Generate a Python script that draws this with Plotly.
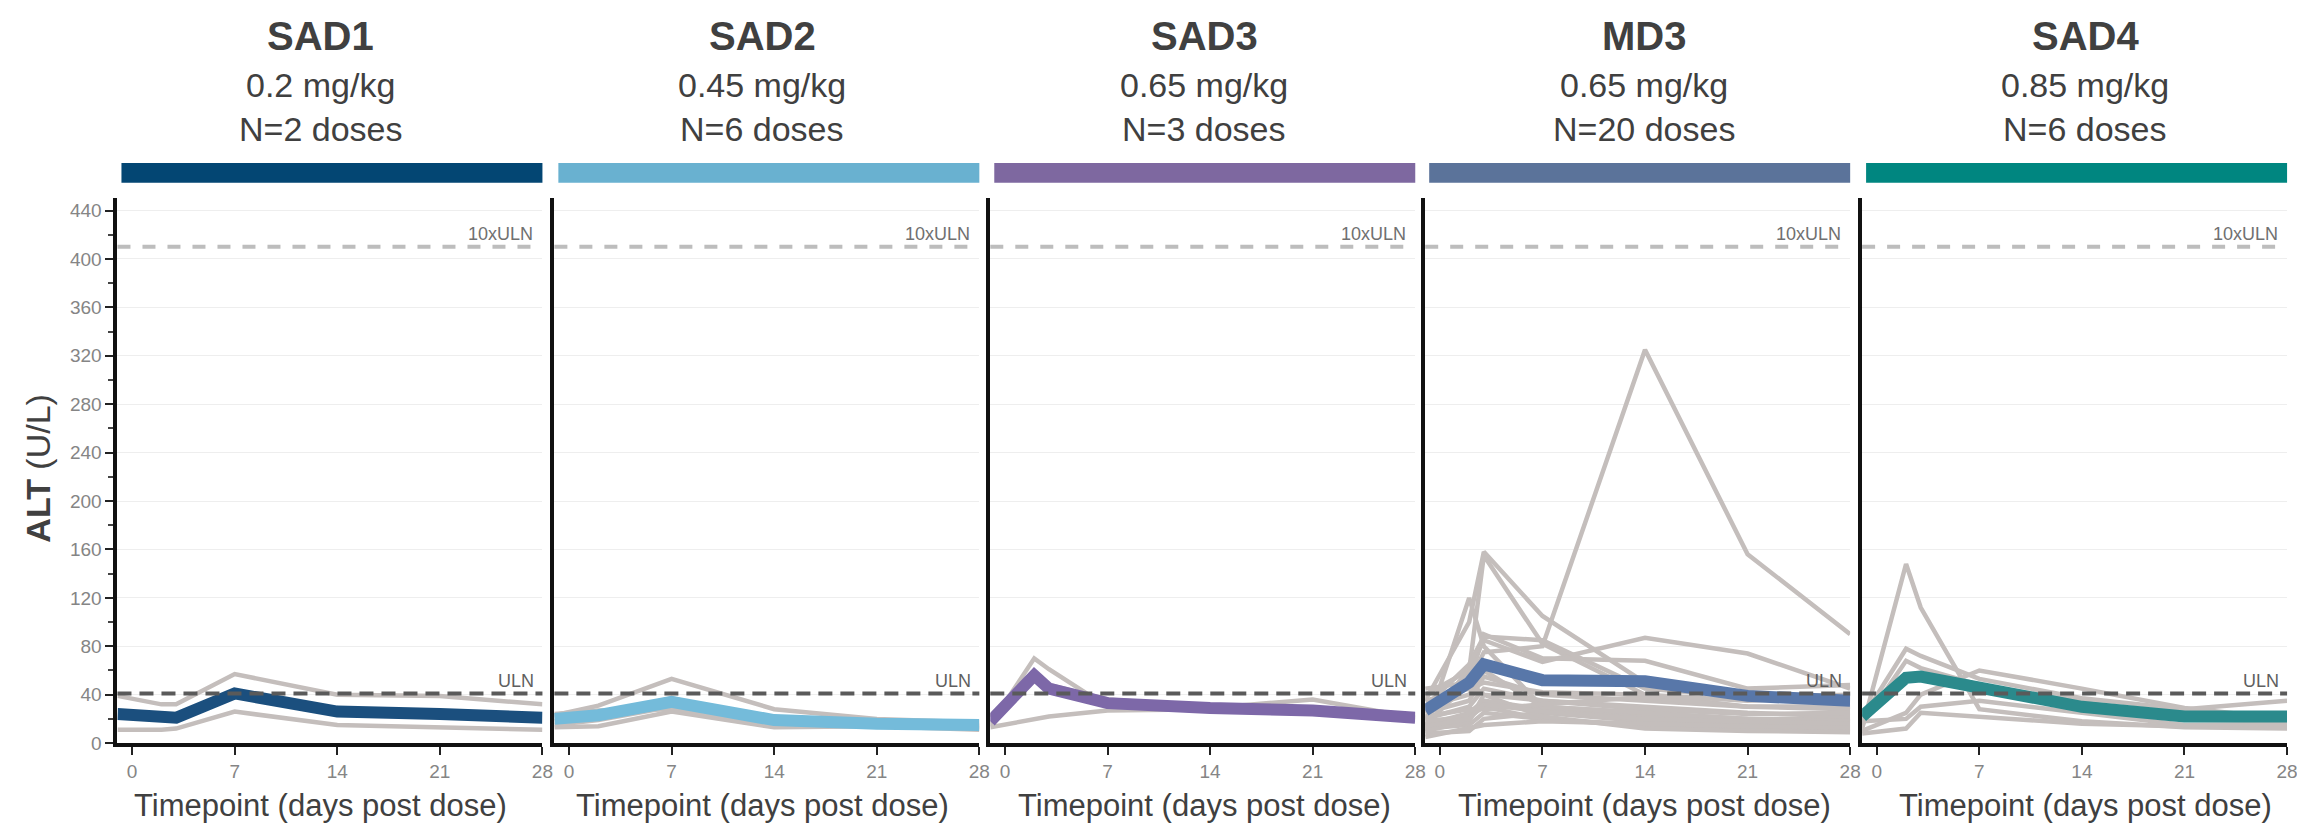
import plotly.graph_objects as go

# ---------------- data ----------------
cohorts = ["SAD1", "SAD2", "SAD3", "MD3", "SAD4"]
doses = ["0.2 mg/kg", "0.45 mg/kg", "0.65 mg/kg", "0.65 mg/kg", "0.85 mg/kg"]
n_doses = ["N=2 doses", "N=6 doses", "N=3 doses", "N=20 doses", "N=6 doses"]

x_ticks = [0, 7, 14, 21, 28]
y_ticks = [0, 40, 80, 120, 160, 200, 240, 280, 320, 360, 400, 440]
ULN = 41
ULN10 = 410

sad1_days = [-1, 2, 3, 7, 14, 21, 28]
sad1_subjects = [
    [39, 32, 32, 57, 40, 39, 32],
    [11, 11, 12, 26, 15, 13, 11],
]
sad1_mean = [24, 21, 21, 41, 26, 24, 21]

sad2_days = [-1, 2, 7, 14, 21, 28]
sad2_subjects = [
    [23, 31, 53, 28, 20, 17],
    [18, 24, 37, 19, 16, 14],
    [13, 14, 26, 13, 14, 11],
    [21, 25, 31, 18, 15, 13],
    [15, 19, 30, 16, 14, 12],
    [24, 27, 28, 17, 16, 15],
]
sad2_mean = [20, 23, 34, 19, 16, 15]

sad3_days = [-1, 2, 3, 7, 14, 21, 28]
sad3_subjects = [
    [15, 70, 61, 30, 29, 36, 21],
    [13, 20, 22, 27, 28, 25, 19],
    [22, 55, 48, 36, 30, 27, 21],
]
sad3_mean = [18, 56, 45, 33, 29, 27, 21]

md3_days = [-1, 2, 3, 7, 14, 21, 28]
md3_subjects = [
    [30, 50, 75, 80, 325, 156, 90],
    [35, 100, 158, 105, 50, 38, 40],
    [20, 60, 155, 82, 40, 30, 30],
    [10, 120, 80, 30, 25, 20, 20],
    [40, 60, 85, 67, 87, 74, 45],
    [15, 50, 90, 70, 68, 45, 48],
    [30, 65, 88, 85, 45, 38, 35],
    [12, 15, 25, 20, 15, 12, 12],
    [8, 10, 20, 25, 18, 15, 14],
    [15, 25, 35, 28, 22, 20, 18],
    [20, 30, 45, 35, 30, 25, 22],
    [25, 35, 55, 40, 35, 30, 28],
    [18, 22, 30, 20, 14, 13, 10],
    [45, 50, 40, 35, 28, 24, 25],
    [10, 18, 40, 22, 12, 10, 9],
    [30, 40, 60, 30, 25, 20, 18],
    [22, 28, 28, 32, 38, 30, 30],
    [5, 12, 15, 18, 16, 14, 13],
    [35, 45, 50, 42, 40, 35, 38],
    [14, 20, 32, 26, 20, 18, 16],
]
md3_mean = [27, 50, 65, 52, 51, 39, 35]

sad4_days = [-1, 2, 3, 7, 14, 21, 28]
sad4_subjects = [
    [12, 148, 112, 28, 18, 13, 12],
    [20, 78, 72, 53, 37, 28, 35],
    [15, 68, 62, 48, 34, 22, 20],
    [10, 25, 40, 60, 45, 29, 20],
    [8, 12, 25, 22, 16, 14, 14],
    [18, 20, 30, 35, 25, 15, 16],
]
sad4_mean = [22, 54, 55, 45, 30, 22, 22]

panel_days = [sad1_days, sad2_days, sad3_days, md3_days, sad4_days]
panel_subjects = [sad1_subjects, sad2_subjects, sad3_subjects, md3_subjects, sad4_subjects]
panel_means = [sad1_mean, sad2_mean, sad3_mean, md3_mean, sad4_mean]

bar_colors = ["#034673", "#69b1d0", "#7e68a0", "#5b739a", "#008680"]
mean_colors = ["#1b4f7e", "#74bbda", "#7d68a8", "#5877a9", "#2b8a8c"]
grey = "#c4bebc"

# ---------------- layout helpers ----------------
W, H = 2305, 827
FONT = "Liberation Sans, Arial, Helvetica, sans-serif"


def px(x):
    return x / W


def py(y):
    return 1 - y / H


panel_left = [110, 549, 987, 1424, 1863]
panel_width = 427
plot_top, plot_bottom = 193, 745
label_centers = [314, 758, 1202, 1644, 2087]

fig = go.Figure()
shapes = []
annotations = []

for i in range(5):
    xs = "x" if i == 0 else f"x{i + 1}"
    ys = "y" if i == 0 else f"y{i + 1}"
    days = panel_days[i]
    for subj in panel_subjects[i]:
        fig.add_trace(go.Scatter(
            x=days, y=subj, xaxis=xs, yaxis=ys, mode="lines",
            line=dict(color=grey, width=4.5), showlegend=False, hoverinfo="skip"))
    fig.add_trace(go.Scatter(
        x=days, y=panel_means[i], xaxis=xs, yaxis=ys, mode="lines",
        line=dict(color=mean_colors[i], width=12), showlegend=False))

    left = panel_left[i]
    right = left + panel_width
    xa_name = "xaxis" if i == 0 else f"xaxis{i + 1}"
    ya_name = "yaxis" if i == 0 else f"yaxis{i + 1}"
    fig.layout[xa_name] = dict(
        domain=[px(left), px(right)], range=[-1, 28], anchor=ys,
        tickvals=x_ticks, ticks="outside", ticklen=8, tickwidth=2, tickcolor="#222",
        showline=True, linewidth=4, linecolor="#111", showgrid=False, zeroline=False,
        tickfont=dict(family=FONT, size=19, color="#858585"), fixedrange=True)
    ya = dict(
        domain=[py(plot_bottom), py(plot_top)], range=[0, 450], anchor=xs,
        tickvals=y_ticks, showline=True, linewidth=4, linecolor="#111",
        showgrid=True, gridcolor="#eeeeee", gridwidth=1, zeroline=False, fixedrange=True)
    if i == 0:
        ya.update(ticks="outside", ticklen=8, tickwidth=2, tickcolor="#222",
                  tickfont=dict(family=FONT, size=19, color="#858585"),
                  minor=dict(dtick=20, ticks="outside", ticklen=5, tickwidth=2,
                             tickcolor="#444", showgrid=False))
    else:
        ya.update(showticklabels=False, ticks="")
    fig.layout[ya_name] = ya

    # reference lines
    dom = f"{xs} domain"
    shapes.append(dict(type="line", xref=dom, yref=ys, x0=0, x1=1, y0=ULN10, y1=ULN10,
                       line=dict(color="#bdbdbd", width=4, dash="13px,12px")))
    shapes.append(dict(type="line", xref=dom, yref=ys, x0=0, x1=1, y0=ULN, y1=ULN,
                       line=dict(color="#5a5a5a", width=4, dash="14px,8px")))
    annotations.append(dict(xref=dom, yref=ys, x=1, y=ULN10, xanchor="right", yanchor="bottom",
                            xshift=-7, yshift=1, text="10xULN", showarrow=False,
                            font=dict(family=FONT, size=18, color="#707070")))
    annotations.append(dict(xref=dom, yref=ys, x=1, y=ULN, xanchor="right", yanchor="bottom",
                            xshift=-6, yshift=0, text="ULN", showarrow=False,
                            font=dict(family=FONT, size=18, color="#5f5f5f")))

    # header bar
    shapes.append(dict(type="rect", xref="paper", yref="paper",
                       x0=px(left + 4), x1=px(right), y0=py(177), y1=py(157),
                       fillcolor=bar_colors[i], line=dict(width=0)))

    cx = px(label_centers[i])
    annotations.append(dict(xref="paper", yref="paper", x=cx, y=py(28), xanchor="center",
                            yanchor="middle", text=f"<b>{cohorts[i]}</b>", showarrow=False,
                            font=dict(family=FONT, size=40, color="#404040")))
    annotations.append(dict(xref="paper", yref="paper", x=cx, y=py(78), xanchor="center",
                            yanchor="middle", text=doses[i], showarrow=False,
                            font=dict(family=FONT, size=34, color="#404040")))
    annotations.append(dict(xref="paper", yref="paper", x=cx, y=py(123), xanchor="center",
                            yanchor="middle", text=n_doses[i], showarrow=False,
                            font=dict(family=FONT, size=34, color="#404040")))
    annotations.append(dict(xref="paper", yref="paper", x=cx, y=py(808), xanchor="center",
                            yanchor="middle", text="Timepoint (days post dose)", showarrow=False,
                            font=dict(family=FONT, size=31, color="#404040")))

annotations.append(dict(xref="paper", yref="paper", x=px(30), y=py(466), xanchor="center",
                        yanchor="middle", textangle=-90, text="<b>ALT</b> (U/L)", showarrow=False,
                        font=dict(family=FONT, size=34, color="#404040")))

fig.update_layout(
    width=W, height=H, margin=dict(l=0, r=0, t=0, b=0),
    paper_bgcolor="white", plot_bgcolor="white",
    shapes=shapes, annotations=annotations, showlegend=False,
    font=dict(family=FONT),
)

fig.write_html("out.html")
